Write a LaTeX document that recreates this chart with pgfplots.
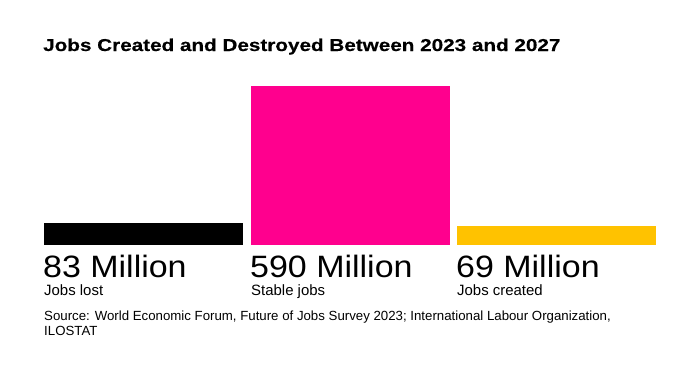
\documentclass[border=0pt]{standalone}
\usepackage{fontspec}
\setmainfont{Liberation Sans}
\newfontfamily\titlefont[FakeStretch=1.2,FakeBold=0.4]{Liberation Sans Bold}
\newfontfamily\bigfont[FakeStretch=1.1]{Liberation Sans}
\usepackage{pgfplots}
\pgfplotsset{compat=1.18}
\definecolor{bblack}{HTML}{000000}
\definecolor{bmag}{HTML}{FF008E}
\definecolor{byel}{HTML}{FFC200}
\begin{document}
\begin{tikzpicture}[x=1bp,y=1bp]
\useasboundingbox (0,0) rectangle (695,364);
\begin{axis}[
  at={(44bp,119bp)}, anchor=south west,
  scale only axis, width=612bp, height=159bp,
  hide axis, ymin=0, ymax=590,
  xmin=-0.4818, xmax=2.4818,
  ybar, bar width=0.9637, bar shift=0pt,
  clip=false,
]
\addplot[fill=bblack, draw=none] coordinates {(0,83)};
\addplot[fill=bmag, draw=none] coordinates {(1,590)};
\addplot[fill=byel, draw=none] coordinates {(2,69)};
\end{axis}
\node[anchor=base west, inner sep=0, font=\titlefont\fontsize{17.3}{20}\selectfont] at (43,313) {Jobs Created and Destroyed Between 2023 and 2027};
\node[anchor=base west, inner sep=0, font=\bigfont\fontsize{31}{36}\selectfont] at (43,87) {83 Million};
\node[anchor=base west, inner sep=0, font=\bigfont\fontsize{31}{36}\selectfont] at (250,87) {590 Million};
\node[anchor=base west, inner sep=0, font=\bigfont\fontsize{31}{36}\selectfont] at (456,87) {69 Million};
\node[anchor=base west, inner sep=0, font=\fontsize{15}{18}\selectfont] at (44,69) {Jobs lost};
\node[anchor=base west, inner sep=0, font=\fontsize{15}{18}\selectfont] at (251,69) {Stable jobs};
\node[anchor=base west, inner sep=0, font=\fontsize{15}{18}\selectfont] at (457,69) {Jobs created};
\node[anchor=base west, inner sep=0, font=\fontsize{13.3}{15}\selectfont] at (44,44) {Source: World Economic Forum, Future of Jobs Survey 2023; International Labour Organization,};
\node[anchor=base west, inner sep=0, font=\fontsize{13.3}{15}\selectfont] at (44,29) {ILOSTAT};
\end{tikzpicture}
\end{document}
